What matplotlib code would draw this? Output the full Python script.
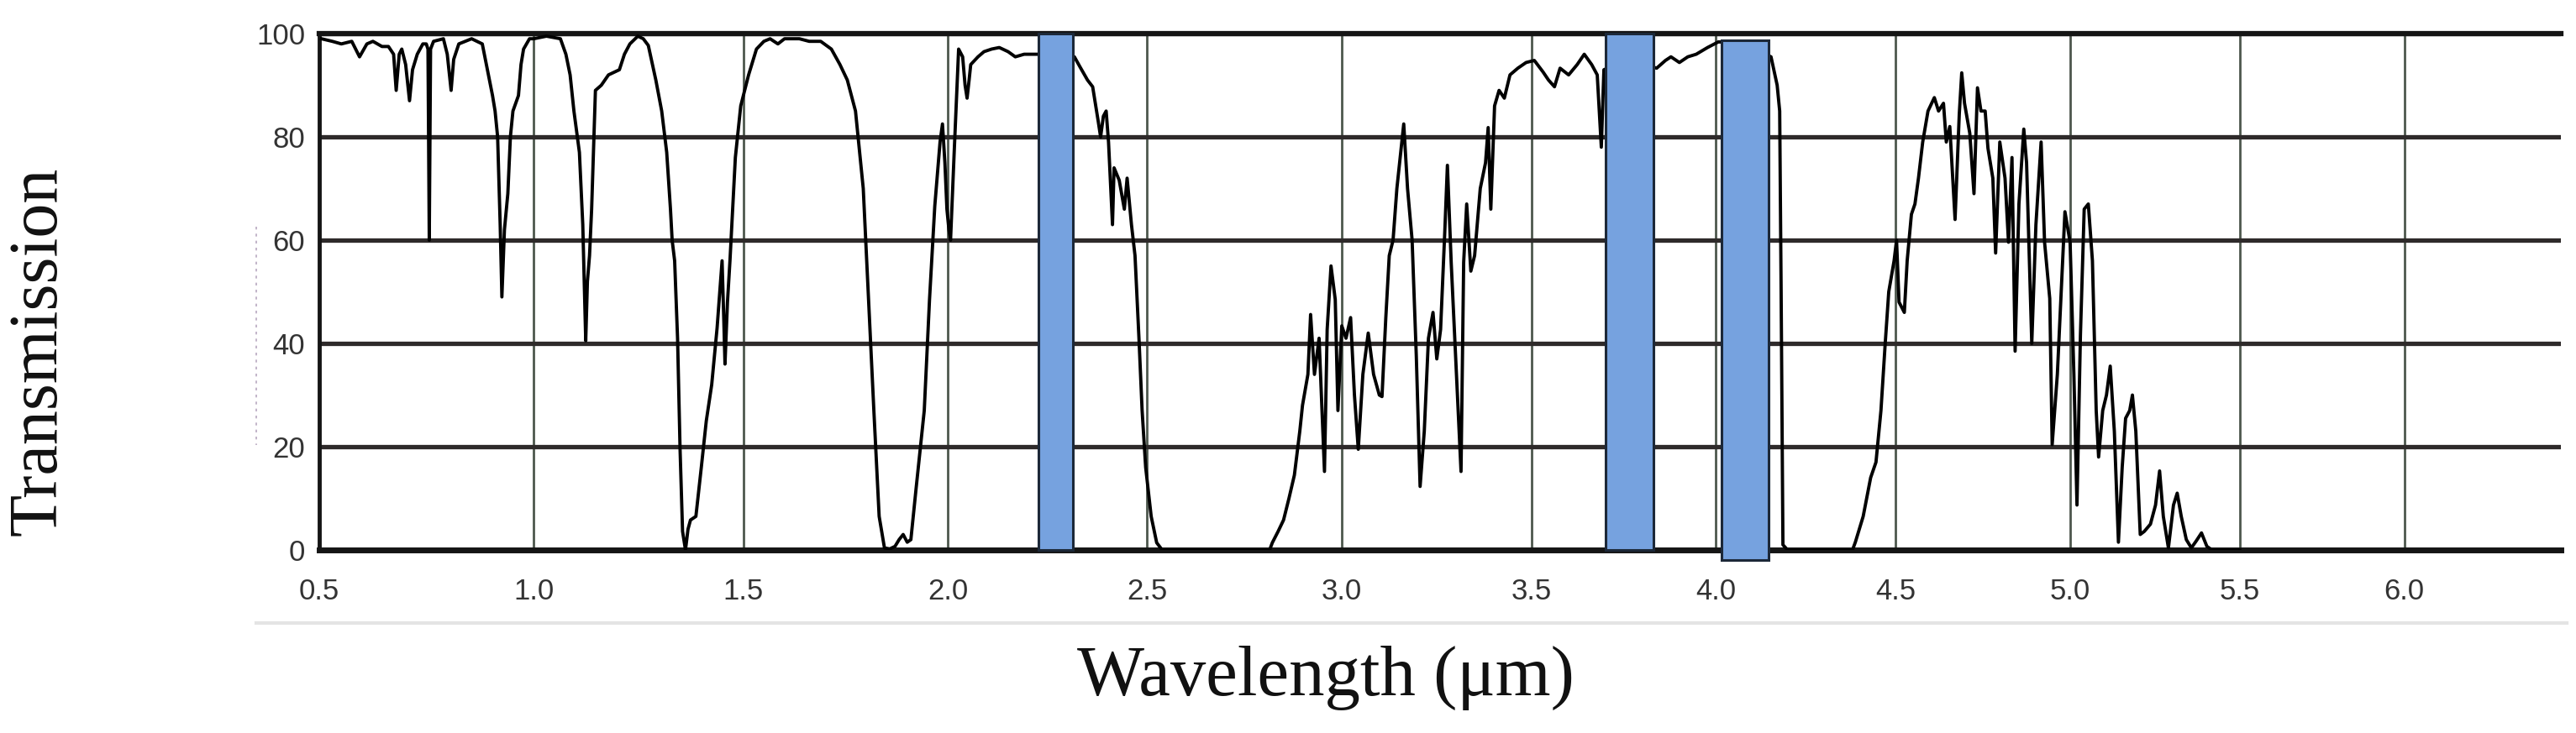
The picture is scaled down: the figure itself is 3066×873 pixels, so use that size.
import numpy as np
import matplotlib
matplotlib.use('Agg')
from matplotlib import pyplot as plt
from matplotlib.lines import Line2D

# transmission spectrum (wavelength in um, transmission in %)
wavelength = [
    0.505, 0.53, 0.551, 0.575, 0.593, 0.61, 0.624, 0.645, 0.66, 0.672, 0.678, 0.685, 0.691, 0.70, 0.709,
    0.716, 0.727, 0.74, 0.748, 0.752, 0.755, 0.758, 0.765, 0.788, 0.797, 0.806, 0.812, 0.824, 0.854, 0.879,
    0.891, 0.903, 0.909, 0.915, 0.921, 0.925, 0.931, 0.939, 0.945, 0.951, 0.964, 0.97, 0.976, 0.99, 1.0,
    1.03, 1.063, 1.076, 1.086, 1.095, 1.108, 1.116, 1.12, 1.123, 1.127, 1.132, 1.137, 1.146, 1.16, 1.177,
    1.19, 1.203, 1.215, 1.228, 1.247, 1.26, 1.272, 1.29, 1.304, 1.316, 1.325, 1.329, 1.335, 1.342, 1.348,
    1.354, 1.361, 1.367, 1.373, 1.386, 1.399, 1.411, 1.424, 1.437, 1.449, 1.453, 1.456, 1.462, 1.468, 1.481,
    1.494, 1.513, 1.532, 1.55, 1.565, 1.584, 1.6, 1.636, 1.66, 1.688, 1.714, 1.735, 1.753, 1.773, 1.792,
    1.805, 1.818, 1.831, 1.844, 1.857, 1.87, 1.88, 1.89, 1.90, 1.909, 1.922, 1.942, 1.955, 1.968, 1.981,
    1.987, 1.993, 1.998, 2.003, 2.007, 2.016, 2.027, 2.037, 2.043, 2.048, 2.053, 2.057, 2.075, 2.09, 2.109,
    2.128, 2.15, 2.168, 2.19, 2.209, 2.225, 2.30, 2.316, 2.329, 2.349, 2.362, 2.376, 2.382, 2.389, 2.396,
    2.402, 2.412, 2.416, 2.429, 2.442, 2.449, 2.46, 2.469, 2.479, 2.487, 2.496, 2.51, 2.524, 2.538, 2.813,
    2.82, 2.835, 2.849, 2.863, 2.877, 2.891, 2.898, 2.912, 2.919, 2.929, 2.941, 2.955, 2.962, 2.972, 2.983,
    2.99, 3.0, 3.011, 3.023, 3.033, 3.043, 3.055, 3.069, 3.083, 3.098, 3.105, 3.115, 3.124, 3.134, 3.144,
    3.162, 3.172, 3.184, 3.195, 3.205, 3.216, 3.227, 3.239, 3.249, 3.259, 3.27, 3.277, 3.287, 3.299, 3.313,
    3.32, 3.328, 3.339, 3.349, 3.364, 3.378, 3.385, 3.392, 3.402, 3.414, 3.428, 3.443, 3.464, 3.486, 3.508,
    3.531, 3.546, 3.562, 3.577, 3.6, 3.623, 3.642, 3.662, 3.677, 3.688, 3.695, 3.76, 3.838, 3.862, 3.877,
    3.9, 3.923, 3.946, 3.977, 4.007, 4.08, 4.152, 4.169, 4.176, 4.18, 4.185, 4.198, 4.379, 4.387, 4.409,
    4.43, 4.445, 4.459, 4.471, 4.481, 4.496, 4.503, 4.51, 4.525, 4.533, 4.545, 4.555, 4.565, 4.577, 4.592,
    4.61, 4.622, 4.636, 4.644, 4.654, 4.669, 4.681, 4.688, 4.696, 4.711, 4.723, 4.733, 4.743, 4.755, 4.763,
    4.777, 4.785, 4.797, 4.812, 4.822, 4.832, 4.841, 4.852, 4.866, 4.874, 4.889, 4.901, 4.916, 4.926, 4.941,
    4.948, 4.963, 4.975, 4.985, 5.0, 5.011, 5.02, 5.03, 5.041, 5.053, 5.065, 5.076, 5.083, 5.095, 5.106,
    5.117, 5.129, 5.141, 5.152, 5.162, 5.174, 5.182, 5.192, 5.205, 5.217, 5.235, 5.25, 5.262, 5.273, 5.288,
    5.303, 5.314, 5.326, 5.341, 5.356, 5.371, 5.386, 5.402, 5.417, 5.5,
]
transmission = [
    99, 98.5, 98, 98.5, 95.5, 98, 98.5, 97.5, 97.5, 96, 89, 96, 97, 94, 87,
    93, 96, 98, 98, 97, 60, 97, 98.5, 99, 96, 89, 95, 98, 99, 98,
    93, 88, 85, 80, 63, 49, 62, 69, 80, 85, 88, 94, 97, 99, 99,
    99.5, 99, 96, 92, 85, 77, 63, 50, 40.5, 52, 57, 66, 89, 90, 92,
    92.5, 93, 96, 98, 99.5, 99, 97.7, 91, 85, 77, 66, 60, 56, 41, 19.5,
    3.6, 0, 4, 5.8, 6.5, 16, 25, 32, 43, 56, 45, 36, 48, 56, 76,
    86, 92, 97, 98.5, 99, 98, 99, 99, 98.5, 98.5, 97, 94, 91, 85, 70,
    48.5, 27, 6.5, 0.4, 0.2, 0.7, 2, 3, 1.5, 2, 12, 27, 48.5, 66.6, 79,
    82.5, 75, 66, 62, 60, 77, 97, 95.5, 90, 87.5, 91, 94, 95.5, 96.5, 97,
    97.3, 96.5, 95.5, 96, 96, 96, 96, 95.5, 93.7, 91, 89.7, 83, 80, 84, 85,
    79, 63, 74, 71.6, 66, 72, 63, 57, 41, 27, 16, 6.5, 1.4, 0, 0,
    1.4, 3.6, 5.8, 10, 14.5, 23, 28, 34, 45.6, 34, 41, 15.2, 42.7, 55, 48.5,
    27, 43.4, 41, 45, 30, 19.5, 34, 42, 34, 30, 29.7, 45, 57, 60, 70,
    82.5, 70, 60, 37.6, 12.3, 23, 41, 46, 37, 42.7, 61.5, 74.5, 55.7, 37, 15.2,
    55.7, 67, 54, 57, 70, 75, 81.8, 66, 86, 89, 87.5, 92, 93.3, 94.4, 94.8,
    92.6, 91, 89.7, 93.3, 92, 94, 96, 94, 92, 78, 93, 95, 93.3, 94.8, 95.5,
    94.4, 95.5, 96, 97.3, 98.4, 98, 95.5, 90, 85, 50, 1.0, 0, 0, 1.5, 6.5,
    14, 17, 27, 40, 50, 56, 60, 48, 46, 56, 65, 67, 72, 79, 85,
    87.6, 85, 86.5, 79, 82, 64, 84.4, 92.4, 86.5, 80.7, 69, 89.5, 85, 85, 77.8,
    72, 57.5, 79, 72, 59.6, 76, 38.5, 67, 81.5, 75, 40, 63, 79, 59.6, 48.7,
    20.4, 34, 51, 65.5, 59.6, 34, 8.7, 41.5, 66, 67, 56, 27, 18, 27, 30,
    35.6, 23, 1.5, 16, 25.5, 27, 30, 23, 3, 3.6, 5, 8.7, 15.3, 6.5, 0.4,
    8.7, 11, 6.5, 2, 0.4, 1.8, 3.3, 0.7, 0, 0,
]

# highlighted bands (um) and their vertical extent (%)
band_start = [2.225, 3.700, 4.015]
band_end = [2.313, 3.830, 4.145]
band_low = [0, 0, -2]
band_high = [100, 100, 98.7]

x_ticks = [0.5, 1.0, 1.5, 2.0, 2.5, 3.0, 3.5, 4.0, 4.5, 5.0, 5.5, 6.0]
y_ticks = [0, 20, 40, 60, 80, 100]

# the scanned axis gets slightly compressed towards long wavelengths
k = 0.02245
def fwd(x):
    x = np.asarray(x, dtype=float)
    return x - k * x ** 2
def inv(u):
    u = np.asarray(u, dtype=float)
    return (1 - np.sqrt(np.clip(1 - 4 * k * u, 0, None))) / (2 * k)

W, H = 3066, 873
fig = plt.figure(figsize=(W / 100, H / 100), dpi=100)
ax = fig.add_axes([380 / W, 1 - 655 / H, (3048 - 380) / W, (655 - 40) / H])
ax.set_xscale('function', functions=(fwd, inv))

ax.plot(wavelength, transmission, color='black', lw=2.8, zorder=3)

for x0, x1, y0, y1 in zip(band_start, band_end, band_low, band_high):
    ax.bar(x0, y1 - y0, width=x1 - x0, bottom=y0, align='edge',
           color='#76a2df', edgecolor='#1c2838', linewidth=2.2, zorder=4, clip_on=False)

ax.set_xlim(0.5, 6.49)
ax.set_ylim(0, 100)
ax.set_xticks(x_ticks)
ax.set_xticklabels(['%.1f' % v for v in x_ticks])
ax.set_yticks(y_ticks)

ax.xaxis.grid(True, color='#4d574d', lw=2.0, zorder=1)
ax.yaxis.grid(True, color='#2e2a2a', lw=3.8, zorder=1)
ax.set_axisbelow(True)

ax.tick_params(axis='both', length=0, labelsize=25, labelcolor='#333333')
ax.tick_params(axis='x', pad=24)
ax.tick_params(axis='y', pad=12)
for lab in ax.get_xticklabels() + ax.get_yticklabels():
    lab.set_family('Liberation Sans')

ax.spines['right'].set_visible(False)
ax.spines['top'].set_linewidth(4.5)
ax.spines['bottom'].set_linewidth(5)
ax.spines['left'].set_linewidth(3.5)
for s in ['top', 'bottom', 'left']:
    ax.spines[s].set_color('#151515')

fig.text(47 / W, 1 - 418 / H, 'Transmission', rotation=90, ha='center', va='center',
         family='Liberation Serif', fontsize=59, color='#111111')
fig.text(1578 / W, 1 - 828 / H, 'Wavelength (\u03bcm)', ha='center', va='baseline',
         family='Liberation Serif', fontsize=61, color='#111111')

# faint edges of the pasted figure
fig.add_artist(Line2D([305 / W, 3055 / W], [1 - 742 / H, 1 - 742 / H],
                      transform=fig.transFigure, color='#e4e4e4', lw=3))
fig.add_artist(Line2D([305 / W, 305 / W], [1 - 270 / H, 1 - 530 / H],
                      transform=fig.transFigure, color='#b8a8c0', lw=1.2, ls=(0, (2, 3))))

fig.savefig('out.png', dpi=100)
